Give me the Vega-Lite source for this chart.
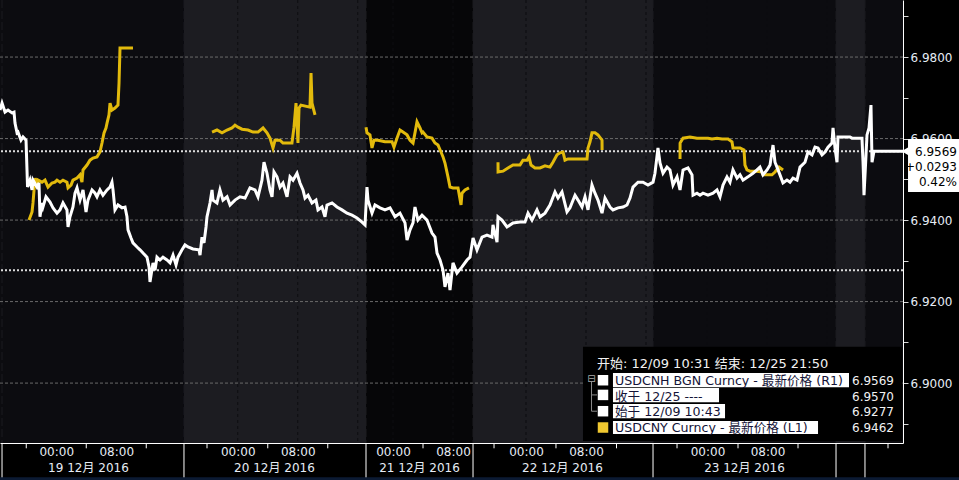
{
"$schema":"https://vega.github.io/schema/vega-lite/v6.json",
"width":903,"height":443,
"autosize":{"type":"none"},
"padding":{"left":0,"top":0,"right":56,"bottom":37},
"background":"#000000",
"config":{"view":{"stroke":null}},
"resolve":{"axis":{"x":"independent","y":"independent"}},
"data":{"values":[{}]},
"datasets":{
"bands":[{"t0":0,"t1":24.53,"shade":"dark"},{"t0":24.53,"t1":48.8,"shade":"light"},{"t0":48.8,"t1":63.07,"shade":"darker"},{"t0":63.07,"t1":87.07,"shade":"light"},{"t0":87.07,"t1":111.47,"shade":"dark"},{"t0":111.47,"t1":115.33,"shade":"light"},{"t0":115.33,"t1":120.4,"shade":"dark"}],
"vgrid":[{"t":7.5,"kind":"grid"},{"t":15.5,"kind":"grid"},{"t":23.5,"kind":"grid"},{"t":31.7,"kind":"grid"},{"t":39.7,"kind":"grid"},{"t":47.7,"kind":"grid"},{"t":52.4,"kind":"grid"},{"t":60.4,"kind":"grid"},{"t":70.13,"kind":"grid"},{"t":78.13,"kind":"grid"},{"t":86.13,"kind":"grid"},{"t":94.33,"kind":"grid"},{"t":102.33,"kind":"grid"},{"t":110.27,"kind":"grid"},{"t":0.27,"kind":"boundary"},{"t":24.53,"kind":"boundary"},{"t":48.8,"kind":"boundary"},{"t":63.07,"kind":"boundary"},{"t":87.07,"kind":"boundary"},{"t":111.47,"kind":"boundary"},{"t":115.33,"kind":"boundary"}],
"bounds":[{"t":0.27},{"t":24.53},{"t":48.8},{"t":63.07},{"t":87.07},{"t":111.47},{"t":115.33}],
"minor":[{"t":3.5},{"t":11.5},{"t":19.5},{"t":27.6},{"t":35.7},{"t":43.7},{"t":56.4},{"t":65.87},{"t":74.13},{"t":82.2},{"t":90.27},{"t":98.4},{"t":106.4},{"t":118.4}],
"hgrid":[{"v":6.90},{"v":6.92},{"v":6.94},{"v":6.96},{"v":6.98}],
"refs":[{"v":6.9569},{"v":6.9277}],
"cny":[
{"seg":1,"t":3.87,"v":6.9400},{"seg":1,"t":4.27,"v":6.9420},{"seg":1,"t":4.4,"v":6.9442},{"seg":1,"t":4.67,"v":6.9503},{"seg":1,"t":4.93,"v":6.9481},{"seg":1,"t":5.07,"v":6.9498},{"seg":1,"t":5.6,"v":6.9493},{"seg":1,"t":6,"v":6.9498},{"seg":1,"t":6.4,"v":6.9481},{"seg":1,"t":6.93,"v":6.9491},{"seg":1,"t":7.33,"v":6.9493},{"seg":1,"t":7.6,"v":6.9498},{"seg":1,"t":8,"v":6.9493},{"seg":1,"t":8.4,"v":6.9498},{"seg":1,"t":8.93,"v":6.9493},{"seg":1,"t":9.07,"v":6.9479},{"seg":1,"t":9.47,"v":6.9486},{"seg":1,"t":9.73,"v":6.9498},{"seg":1,"t":10.27,"v":6.9503},{"seg":1,"t":10.67,"v":6.9511},{"seg":1,"t":10.93,"v":6.9493},{"seg":1,"t":11.07,"v":6.9523},{"seg":1,"t":11.6,"v":6.9535},{"seg":1,"t":12,"v":6.9547},{"seg":1,"t":12.4,"v":6.9552},{"seg":1,"t":12.93,"v":6.9555},{"seg":1,"t":13.33,"v":6.9567},{"seg":1,"t":13.6,"v":6.9589},{"seg":1,"t":13.87,"v":6.9614},{"seg":1,"t":14.13,"v":6.9626},{"seg":1,"t":14.27,"v":6.9638},{"seg":1,"t":14.53,"v":6.9658},{"seg":1,"t":14.67,"v":6.9687},{"seg":1,"t":14.93,"v":6.9670},{"seg":1,"t":15.33,"v":6.9675},{"seg":1,"t":15.73,"v":6.9682},{"seg":1,"t":15.87,"v":6.9736},{"seg":1,"t":16,"v":6.9822},{"seg":1,"t":17.73,"v":6.9822},
{"seg":2,"t":28.27,"v":6.9616},{"seg":2,"t":28.93,"v":6.9621},{"seg":2,"t":29.6,"v":6.9614},{"seg":2,"t":30.27,"v":6.9621},{"seg":2,"t":30.93,"v":6.9626},{"seg":2,"t":31.33,"v":6.9633},{"seg":2,"t":31.73,"v":6.9628},{"seg":2,"t":32.27,"v":6.9623},{"seg":2,"t":33.07,"v":6.9621},{"seg":2,"t":33.73,"v":6.9616},{"seg":2,"t":34.4,"v":6.9616},{"seg":2,"t":35.07,"v":6.9626},{"seg":2,"t":35.6,"v":6.9614},{"seg":2,"t":36,"v":6.9601},{"seg":2,"t":36.4,"v":6.9577},{"seg":2,"t":36.67,"v":6.9596},{"seg":2,"t":37.33,"v":6.9596},{"seg":2,"t":37.73,"v":6.9589},{"seg":2,"t":38.93,"v":6.9589},{"seg":2,"t":39.2,"v":6.9628},{"seg":2,"t":39.47,"v":6.9687},{"seg":2,"t":39.73,"v":6.9589},{"seg":2,"t":39.87,"v":6.9675},{"seg":2,"t":40.13,"v":6.9682},{"seg":2,"t":41.33,"v":6.9677},{"seg":2,"t":41.47,"v":6.9761},{"seg":2,"t":41.6,"v":6.9687},{"seg":2,"t":42,"v":6.9658},
{"seg":3,"t":48.8,"v":6.9628},{"seg":3,"t":48.93,"v":6.9614},{"seg":3,"t":49.33,"v":6.9609},{"seg":3,"t":49.6,"v":6.9577},{"seg":3,"t":49.87,"v":6.9596},{"seg":3,"t":50.4,"v":6.9596},{"seg":3,"t":51.33,"v":6.9592},{"seg":3,"t":52.27,"v":6.9592},{"seg":3,"t":52.53,"v":6.9579},{"seg":3,"t":52.93,"v":6.9601},{"seg":3,"t":53.33,"v":6.9621},{"seg":3,"t":53.73,"v":6.9616},{"seg":3,"t":54.27,"v":6.9609},{"seg":3,"t":54.67,"v":6.9596},{"seg":3,"t":55.07,"v":6.9589},{"seg":3,"t":55.33,"v":6.9614},{"seg":3,"t":55.6,"v":6.9641},{"seg":3,"t":56,"v":6.9626},{"seg":3,"t":56.27,"v":6.9614},{"seg":3,"t":56.4,"v":6.9616},{"seg":3,"t":56.93,"v":6.9604},{"seg":3,"t":57.6,"v":6.9601},{"seg":3,"t":58,"v":6.9589},{"seg":3,"t":58.4,"v":6.9584},{"seg":3,"t":58.8,"v":6.9567},{"seg":3,"t":59.07,"v":6.9555},{"seg":3,"t":59.33,"v":6.9540},{"seg":3,"t":59.73,"v":6.9506},{"seg":3,"t":60,"v":6.9481},{"seg":3,"t":60.4,"v":6.9479},{"seg":3,"t":61.07,"v":6.9479},{"seg":3,"t":61.47,"v":6.9437},{"seg":3,"t":61.6,"v":6.9466},{"seg":3,"t":62,"v":6.9474},{"seg":3,"t":62.53,"v":6.9479},
{"seg":4,"t":66.4,"v":6.9542},{"seg":4,"t":66.41,"v":6.9518},{"seg":4,"t":67.07,"v":6.9520},{"seg":4,"t":67.73,"v":6.9528},{"seg":4,"t":68.4,"v":6.9535},{"seg":4,"t":69.33,"v":6.9535},{"seg":4,"t":69.73,"v":6.9547},{"seg":4,"t":70.27,"v":6.9547},{"seg":4,"t":70.53,"v":6.9555},{"seg":4,"t":70.8,"v":6.9535},{"seg":4,"t":71.33,"v":6.9528},{"seg":4,"t":72,"v":6.9528},{"seg":4,"t":72.67,"v":6.9533},{"seg":4,"t":73.33,"v":6.9530},{"seg":4,"t":73.73,"v":6.9542},{"seg":4,"t":74.27,"v":6.9560},{"seg":4,"t":74.67,"v":6.9565},{"seg":4,"t":75.07,"v":6.9567},{"seg":4,"t":75.33,"v":6.9547},{"seg":4,"t":75.73,"v":6.9550},{"seg":4,"t":78.27,"v":6.9550},{"seg":4,"t":78.4,"v":6.9577},{"seg":4,"t":78.67,"v":6.9592},{"seg":4,"t":78.93,"v":6.9614},{"seg":4,"t":79.33,"v":6.9614},{"seg":4,"t":79.73,"v":6.9609},{"seg":4,"t":80.27,"v":6.9596},{"seg":4,"t":80.28,"v":6.9572},
{"seg":5,"t":90.67,"v":6.9550},{"seg":5,"t":90.68,"v":6.9589},{"seg":5,"t":91.07,"v":6.9601},{"seg":5,"t":92,"v":6.9604},{"seg":5,"t":92.93,"v":6.9601},{"seg":5,"t":93.73,"v":6.9601},{"seg":5,"t":94.4,"v":6.9601},{"seg":5,"t":94.93,"v":6.9599},{"seg":5,"t":95.6,"v":6.9601},{"seg":5,"t":96.27,"v":6.9599},{"seg":5,"t":97.07,"v":6.9599},{"seg":5,"t":97.6,"v":6.9592},{"seg":5,"t":97.73,"v":6.9577},{"seg":5,"t":98.67,"v":6.9577},{"seg":5,"t":99.2,"v":6.9572},{"seg":5,"t":99.33,"v":6.9535},{"seg":5,"t":99.6,"v":6.9523},{"seg":5,"t":100,"v":6.9520},{"seg":5,"t":100.93,"v":6.9520},{"seg":5,"t":101.6,"v":6.9518},{"seg":5,"t":101.73,"v":6.9511},{"seg":5,"t":102.93,"v":6.9511},{"seg":5,"t":103.33,"v":6.9518},{"seg":5,"t":103.87,"v":6.9530},{"seg":5,"t":104.4,"v":6.9523}
],
"cnh":[
{"t":0,"v":6.9670},{"t":0.27,"v":6.9687},{"t":0.67,"v":6.9665},{"t":1.07,"v":6.9670},{"t":1.6,"v":6.9663},{"t":1.87,"v":6.9665},{"t":2,"v":6.9638},{"t":2.27,"v":6.9614},{"t":2.4,"v":6.9616},{"t":2.8,"v":6.9596},{"t":3.07,"v":6.9604},{"t":3.47,"v":6.9596},{"t":3.6,"v":6.9523},{"t":3.67,"v":6.9481},{"t":4,"v":6.9498},{"t":4.27,"v":6.9474},{"t":4.4,"v":6.9498},{"t":4.93,"v":6.9481},{"t":5.2,"v":6.9491},{"t":5.33,"v":6.9408},{"t":5.6,"v":6.9442},{"t":5.73,"v":6.9432},{"t":6.13,"v":6.9457},{"t":6.67,"v":6.9444},{"t":7.07,"v":6.9430},{"t":7.6,"v":6.9417},{"t":8,"v":6.9425},{"t":8.4,"v":6.9442},{"t":8.93,"v":6.9425},{"t":9.07,"v":6.9383},{"t":9.33,"v":6.9408},{"t":9.73,"v":6.9432},{"t":10,"v":6.9466},{"t":10.27,"v":6.9479},{"t":10.67,"v":6.9449},{"t":11.07,"v":6.9474},{"t":11.47,"v":6.9420},{"t":11.73,"v":6.9449},{"t":12.27,"v":6.9474},{"t":12.67,"v":6.9466},{"t":12.93,"v":6.9457},{"t":13.33,"v":6.9474},{"t":13.73,"v":6.9461},{"t":14.27,"v":6.9474},{"t":14.67,"v":6.9481},{"t":14.93,"v":6.9493},{"t":15.07,"v":6.9474},{"t":15.33,"v":6.9425},{"t":15.73,"v":6.9437},{"t":16.27,"v":6.9430},{"t":16.67,"v":6.9432},{"t":16.93,"v":6.9408},{"t":17.07,"v":6.9376},{"t":17.47,"v":6.9356},{"t":17.73,"v":6.9344},{"t":18.27,"v":6.9334},{"t":18.67,"v":6.9327},{"t":19.07,"v":6.9319},{"t":19.6,"v":6.9309},{"t":19.87,"v":6.9285},{"t":20,"v":6.9248},{"t":20.4,"v":6.9295},{"t":20.67,"v":6.9277},{"t":20.93,"v":6.9309},{"t":21.33,"v":6.9302},{"t":21.73,"v":6.9309},{"t":22.27,"v":6.9302},{"t":22.67,"v":6.9295},{"t":23.07,"v":6.9314},{"t":23.47,"v":6.9290},{"t":23.73,"v":6.9309},{"t":24.27,"v":6.9327},{"t":24.67,"v":6.9339},{"t":25.07,"v":6.9334},{"t":25.73,"v":6.9329},{"t":26.53,"v":6.9327},{"t":26.67,"v":6.9314},{"t":26.93,"v":6.9358},{"t":27.2,"v":6.9344},{"t":27.47,"v":6.9383},{"t":27.6,"v":6.9408},{"t":28,"v":6.9442},{"t":28.27,"v":6.9474},{"t":28.4,"v":6.9449},{"t":28.93,"v":6.9442},{"t":29.33,"v":6.9474},{"t":29.73,"v":6.9449},{"t":30.27,"v":6.9457},{"t":30.67,"v":6.9437},{"t":31.33,"v":6.9449},{"t":32,"v":6.9457},{"t":32.67,"v":6.9454},{"t":33.33,"v":6.9479},{"t":34,"v":6.9474},{"t":34.4,"v":6.9457},{"t":34.93,"v":6.9498},{"t":35.2,"v":6.9542},{"t":35.6,"v":6.9515},{"t":36,"v":6.9474},{"t":36.27,"v":6.9457},{"t":36.53,"v":6.9518},{"t":36.93,"v":6.9506},{"t":37.33,"v":6.9481},{"t":37.73,"v":6.9491},{"t":38.27,"v":6.9457},{"t":38.67,"v":6.9506},{"t":39.07,"v":6.9498},{"t":39.6,"v":6.9515},{"t":40,"v":6.9491},{"t":40.4,"v":6.9474},{"t":40.67,"v":6.9454},{"t":41.07,"v":6.9461},{"t":41.6,"v":6.9442},{"t":42.13,"v":6.9449},{"t":42.4,"v":6.9425},{"t":42.93,"v":6.9432},{"t":43.33,"v":6.9408},{"t":43.6,"v":6.9437},{"t":44.27,"v":6.9442},{"t":44.93,"v":6.9432},{"t":45.6,"v":6.9425},{"t":46.27,"v":6.9417},{"t":46.93,"v":6.9412},{"t":47.6,"v":6.9405},{"t":48.27,"v":6.9395},{"t":48.67,"v":6.9388},{"t":48.93,"v":6.9481},{"t":49.07,"v":6.9449},{"t":49.6,"v":6.9417},{"t":50,"v":6.9437},{"t":50.67,"v":6.9430},{"t":51.33,"v":6.9425},{"t":52,"v":6.9430},{"t":52.67,"v":6.9408},{"t":53.33,"v":6.9417},{"t":54,"v":6.9393},{"t":54.27,"v":6.9351},{"t":54.67,"v":6.9376},{"t":55.07,"v":6.9393},{"t":55.33,"v":6.9432},{"t":55.73,"v":6.9400},{"t":56.27,"v":6.9412},{"t":56.93,"v":6.9400},{"t":57.6,"v":6.9368},{"t":58,"v":6.9358},{"t":58.27,"v":6.9319},{"t":58.67,"v":6.9302},{"t":59.07,"v":6.9277},{"t":59.33,"v":6.9236},{"t":59.73,"v":6.9270},{"t":60,"v":6.9228},{"t":60.4,"v":6.9295},{"t":60.93,"v":6.9270},{"t":61.6,"v":6.9285},{"t":62.27,"v":6.9302},{"t":62.67,"v":6.9309},{"t":63.07,"v":6.9356},{"t":63.6,"v":6.9327},{"t":64.27,"v":6.9358},{"t":64.93,"v":6.9363},{"t":65.6,"v":6.9358},{"t":65.73,"v":6.9388},{"t":66.27,"v":6.9346},{"t":66.4,"v":6.9408},{"t":66.93,"v":6.9400},{"t":67.6,"v":6.9383},{"t":68.4,"v":6.9393},{"t":69.33,"v":6.9395},{"t":70,"v":6.9395},{"t":70.4,"v":6.9417},{"t":70.93,"v":6.9400},{"t":71.6,"v":6.9425},{"t":72,"v":6.9408},{"t":72.67,"v":6.9417},{"t":73.33,"v":6.9437},{"t":74,"v":6.9469},{"t":74.4,"v":6.9454},{"t":74.93,"v":6.9469},{"t":75.6,"v":6.9420},{"t":76,"v":6.9430},{"t":76.67,"v":6.9461},{"t":77.07,"v":6.9449},{"t":77.6,"v":6.9432},{"t":78,"v":6.9457},{"t":78.4,"v":6.9425},{"t":78.93,"v":6.9486},{"t":79.33,"v":6.9466},{"t":79.73,"v":6.9449},{"t":80.27,"v":6.9417},{"t":80.67,"v":6.9454},{"t":81.33,"v":6.9432},{"t":81.73,"v":6.9425},{"t":82.4,"v":6.9430},{"t":83.07,"v":6.9432},{"t":83.6,"v":6.9437},{"t":84,"v":6.9454},{"t":84.4,"v":6.9481},{"t":85.07,"v":6.9493},{"t":85.73,"v":6.9493},{"t":86.4,"v":6.9486},{"t":87.07,"v":6.9493},{"t":87.33,"v":6.9515},{"t":87.73,"v":6.9577},{"t":88,"v":6.9540},{"t":88.4,"v":6.9515},{"t":88.93,"v":6.9530},{"t":89.33,"v":6.9523},{"t":89.73,"v":6.9486},{"t":90.27,"v":6.9506},{"t":90.67,"v":6.9474},{"t":91.07,"v":6.9523},{"t":91.73,"v":6.9528},{"t":92.27,"v":6.9511},{"t":92.4,"v":6.9461},{"t":92.93,"v":6.9466},{"t":93.33,"v":6.9461},{"t":93.73,"v":6.9466},{"t":94.4,"v":6.9461},{"t":95.07,"v":6.9466},{"t":95.6,"v":6.9474},{"t":96,"v":6.9457},{"t":96.4,"v":6.9486},{"t":96.93,"v":6.9506},{"t":97.33,"v":6.9493},{"t":97.73,"v":6.9523},{"t":98.27,"v":6.9503},{"t":98.67,"v":6.9511},{"t":99.07,"v":6.9498},{"t":99.73,"v":6.9506},{"t":100.4,"v":6.9515},{"t":100.93,"v":6.9523},{"t":101.33,"v":6.9530},{"t":101.73,"v":6.9511},{"t":102.27,"v":6.9523},{"t":102.67,"v":6.9535},{"t":103.07,"v":6.9584},{"t":103.33,"v":6.9542},{"t":103.6,"v":6.9530},{"t":104,"v":6.9511},{"t":104.4,"v":6.9491},{"t":104.93,"v":6.9498},{"t":105.33,"v":6.9493},{"t":105.73,"v":6.9503},{"t":106.27,"v":6.9498},{"t":106.67,"v":6.9530},{"t":107.33,"v":6.9542},{"t":107.73,"v":6.9567},{"t":108.27,"v":6.9560},{"t":108.67,"v":6.9579},{"t":109.07,"v":6.9577},{"t":109.6,"v":6.9560},{"t":110,"v":6.9567},{"t":110.4,"v":6.9579},{"t":110.93,"v":6.9589},{"t":111.07,"v":6.9626},{"t":111.33,"v":6.9577},{"t":111.6,"v":6.9542},{"t":111.73,"v":6.9604},{"t":113.33,"v":6.9604},{"t":113.6,"v":6.9601},{"t":114.93,"v":6.9601},{"t":115.07,"v":6.9542},{"t":115.13,"v":6.9511},{"t":115.2,"v":6.9461},{"t":115.47,"v":6.9560},{"t":115.6,"v":6.9609},{"t":115.87,"v":6.9626},{"t":116.13,"v":6.9682},{"t":116.27,"v":6.9542},{"t":116.53,"v":6.9569},{"t":120.4,"v":6.9569}
]
},
"layer":[
{"data":{"name":"bands"},"mark":{"type":"rect"},
 "encoding":{"x":{"field":"t0","type":"quantitative","scale":{"domain":[0,120.4],"nice":false,"zero":false},"axis":null},"x2":{"field":"t1"},
 "y":{"datum":6.994,"type":"quantitative","scale":{"domain":[6.8853,6.994],"nice":false,"zero":false},"axis":null},"y2":{"datum":6.8853},
 "color":{"field":"shade","type":"nominal","scale":{"domain":["dark","light","darker"],"range":["#0c0c10","#1c1c21","#060608"]},"legend":null}}},
{"data":{"name":"vgrid"},"mark":{"type":"rule","strokeWidth":1},
 "encoding":{"x":{"field":"t","type":"quantitative","scale":{"domain":[0,120.4],"nice":false,"zero":false},"axis":null},
 "strokeDash":{"field":"kind","type":"nominal","scale":{"domain":["grid","boundary"],"range":[[3,3],[8,3]]},"legend":null},
 "color":{"field":"kind","type":"nominal","scale":{"domain":["grid","boundary"],"range":["#6a6a6a","#8c8c8c"]},"legend":null}}},
{"data":{"name":"hgrid"},"mark":{"type":"rule","strokeWidth":1,"strokeDash":[3,2],"color":"#6a6a6a"},
 "encoding":{"y":{"field":"v","type":"quantitative","scale":{"domain":[6.8853,6.994],"nice":false,"zero":false},"axis":null}}},
{"data":{"name":"refs"},"mark":{"type":"rule","strokeWidth":2,"strokeDash":[2,2],"color":"#dcdcdc"},
 "encoding":{"y":{"field":"v","type":"quantitative","scale":{"domain":[6.8853,6.994],"nice":false,"zero":false},"axis":null}}},
{"data":{"name":"cny"},"mark":{"type":"line","color":"#e2ba0c","strokeWidth":3},
 "encoding":{"x":{"field":"t","type":"quantitative","scale":{"domain":[0,120.4],"nice":false,"zero":false},"axis":null},
 "y":{"field":"v","type":"quantitative","scale":{"domain":[6.8853,6.994],"nice":false,"zero":false},"axis":null},
 "detail":{"field":"seg","type":"nominal"}}},
{"data":{"name":"cnh"},"mark":{"type":"line","color":"#ffffff","strokeWidth":3},
 "encoding":{"x":{"field":"t","type":"quantitative","scale":{"domain":[0,120.4],"nice":false,"zero":false},
   "axis":{"orient":"bottom","values":[7.5,15.5,31.7,39.7,52.4,60.4,70.13,78.13,94.33,102.33,11.73,36.53,55.87,74.93,99.2],
   "labelExpr":"indexof([7.5,31.7,52.4,70.13,94.33], datum.value) >= 0 ? '00:00' : indexof([15.5,39.7,60.4,78.13,102.33], datum.value) >= 0 ? '08:00' : datum.value == 11.73 ? ['', '19 12月 2016'] : datum.value == 36.53 ? ['', '20 12月 2016'] : datum.value == 55.87 ? ['', '21 12月 2016'] : datum.value == 74.93 ? ['', '22 12月 2016'] : datum.value == 99.2 ? ['', '23 12月 2016'] : ''",
   "ticks":false,"grid":false,"domain":true,"domainColor":"#ffffff","domainWidth":1,"labelColor":"#e6ecf5","labelFont":"DejaVu Sans, Noto Sans CJK SC","labelFontSize":12,"labelPadding":3,"labelBaseline":"top","labelLineHeight":16,"labelOverlap":false,"labelFlush":false,"title":null,"zindex":1}},
 "y":{"field":"v","type":"quantitative","scale":{"domain":[6.8853,6.994],"nice":false,"zero":false},
   "axis":{"orient":"right","values":[6.89,6.9,6.91,6.92,6.93,6.94,6.95,6.96,6.97,6.98,6.99],"labelExpr":"round(datum.value*100) % 2 == 0 ? format(datum.value, '.4f') : ''","grid":false,"ticks":true,"tickSize":5,"tickColor":"#d8d8d8","domain":true,"domainColor":"#ffffff","labelColor":"#e6ecf5","labelFont":"DejaVu Sans","labelFontSize":12,"labelPadding":2,"labelOverlap":false,"labelFlush":false,"title":null,"zindex":0}}}},
{"data":{"name":"bounds"},"mark":{"type":"rule","color":"#ffffff","strokeWidth":1},
 "encoding":{"x":{"field":"t","type":"quantitative","scale":{"domain":[0,120.4],"nice":false,"zero":false},"axis":null},
 "y":{"datum":6.8853,"type":"quantitative","scale":{"domain":[6.8853,6.994],"nice":false,"zero":false},"axis":null},"y2":{"datum":6.8762}}},
{"data":{"name":"minor"},"mark":{"type":"rule","color":"#ffffff","strokeWidth":1},
 "encoding":{"x":{"field":"t","type":"quantitative","scale":{"domain":[0,120.4],"nice":false,"zero":false},"axis":null},
 "y":{"datum":6.8853,"type":"quantitative","scale":{"domain":[6.8853,6.994],"nice":false,"zero":false},"axis":null},"y2":{"datum":6.8840}}},
{"mark":{"type":"rect","color":"#0b1a33"},
 "encoding":{"x":{"datum":0,"type":"quantitative","scale":{"domain":[0,120.4],"nice":false,"zero":false},"axis":null},"x2":{"datum":127.9},
 "y":{"datum":6.8769,"type":"quantitative","scale":{"domain":[6.8853,6.994],"nice":false,"zero":false},"axis":null},"y2":{"datum":6.8760}}},
{"mark":{"type":"rect","color":"#000000"},
 "encoding":{"x":{"datum":77.73,"type":"quantitative","scale":{"domain":[0,120.4],"nice":false,"zero":false},"axis":null},"x2":{"datum":120.3},
 "y":{"datum":6.9089,"type":"quantitative","scale":{"domain":[6.8853,6.994],"nice":false,"zero":false},"axis":null},"y2":{"datum":6.8858}}},
{"mark":{"type":"rect","color":"#ffffff"},
 "encoding":{"x":{"datum":81.73,"type":"quantitative","scale":{"domain":[0,120.4],"nice":false,"zero":false},"axis":null},"x2":{"datum":113.2},
 "y":{"datum":6.9025,"type":"quantitative","scale":{"domain":[6.8853,6.994],"nice":false,"zero":false},"axis":null},"y2":{"datum":6.8990}}},
{"mark":{"type":"rect","color":"#ffffff"},
 "encoding":{"x":{"datum":81.73,"type":"quantitative","scale":{"domain":[0,120.4],"nice":false,"zero":false},"axis":null},"x2":{"datum":95.87},
 "y":{"datum":6.8988,"type":"quantitative","scale":{"domain":[6.8853,6.994],"nice":false,"zero":false},"axis":null},"y2":{"datum":6.8953}}},
{"mark":{"type":"rect","color":"#ffffff"},
 "encoding":{"x":{"datum":81.73,"type":"quantitative","scale":{"domain":[0,120.4],"nice":false,"zero":false},"axis":null},"x2":{"datum":96.67},
 "y":{"datum":6.8949,"type":"quantitative","scale":{"domain":[6.8853,6.994],"nice":false,"zero":false},"axis":null},"y2":{"datum":6.8914}}},
{"mark":{"type":"rect","color":"#ffffff"},
 "encoding":{"x":{"datum":81.73,"type":"quantitative","scale":{"domain":[0,120.4],"nice":false,"zero":false},"axis":null},"x2":{"datum":109.07},
 "y":{"datum":6.8907,"type":"quantitative","scale":{"domain":[6.8853,6.994],"nice":false,"zero":false},"axis":null},"y2":{"datum":6.8875}}},
{"mark":{"type":"point","shape":"square","filled":true,"size":110,"color":"#ffffff","opacity":1},
 "encoding":{"x":{"datum":80.4,"type":"quantitative","scale":{"domain":[0,120.4],"nice":false,"zero":false},"axis":null},
 "y":{"datum":6.9007,"type":"quantitative","scale":{"domain":[6.8853,6.994],"nice":false,"zero":false},"axis":null}}},
{"mark":{"type":"point","shape":"square","filled":true,"size":110,"color":"#ffffff","opacity":1},
 "encoding":{"x":{"datum":80.4,"type":"quantitative","scale":{"domain":[0,120.4],"nice":false,"zero":false},"axis":null},
 "y":{"datum":6.8971,"type":"quantitative","scale":{"domain":[6.8853,6.994],"nice":false,"zero":false},"axis":null}}},
{"mark":{"type":"point","shape":"square","filled":true,"size":110,"color":"#ffffff","opacity":1},
 "encoding":{"x":{"datum":80.4,"type":"quantitative","scale":{"domain":[0,120.4],"nice":false,"zero":false},"axis":null},
 "y":{"datum":6.8931,"type":"quantitative","scale":{"domain":[6.8853,6.994],"nice":false,"zero":false},"axis":null}}},
{"mark":{"type":"point","shape":"square","filled":true,"size":110,"color":"#f0c830","opacity":1},
 "encoding":{"x":{"datum":80.4,"type":"quantitative","scale":{"domain":[0,120.4],"nice":false,"zero":false},"axis":null},
 "y":{"datum":6.8891,"type":"quantitative","scale":{"domain":[6.8853,6.994],"nice":false,"zero":false},"axis":null}}},
{"mark":{"type":"rule","color":"#8a8a8a","strokeWidth":1},
 "encoding":{"x":{"datum":78.87,"type":"quantitative","scale":{"domain":[0,120.4],"nice":false,"zero":false},"axis":null},
 "y":{"datum":6.9003,"type":"quantitative","scale":{"domain":[6.8853,6.994],"nice":false,"zero":false},"axis":null},"y2":{"datum":6.8931}}},
{"mark":{"type":"rule","color":"#8a8a8a","strokeWidth":1},
 "encoding":{"x":{"datum":78.87,"type":"quantitative","scale":{"domain":[0,120.4],"nice":false,"zero":false},"axis":null},"x2":{"datum":79.6},
 "y":{"datum":6.8971,"type":"quantitative","scale":{"domain":[6.8853,6.994],"nice":false,"zero":false},"axis":null}}},
{"mark":{"type":"rule","color":"#8a8a8a","strokeWidth":1},
 "encoding":{"x":{"datum":78.87,"type":"quantitative","scale":{"domain":[0,120.4],"nice":false,"zero":false},"axis":null},"x2":{"datum":79.6},
 "y":{"datum":6.8931,"type":"quantitative","scale":{"domain":[6.8853,6.994],"nice":false,"zero":false},"axis":null}}},
{"mark":{"type":"text","text":"⊟","font":"DejaVu Sans","fontSize":10,"color":"#aaaaaa","align":"center","baseline":"middle"},
 "encoding":{"x":{"datum":78.87,"type":"quantitative","scale":{"domain":[0,120.4],"nice":false,"zero":false},"axis":null},
 "y":{"datum":6.9010,"type":"quantitative","scale":{"domain":[6.8853,6.994],"nice":false,"zero":false},"axis":null}}},
{"mark":{"type":"text","text":"开始: 12/09 10:31 结束: 12/25 21:50","font":"DejaVu Sans, Noto Sans CJK SC","fontSize":13,"color":"#f2f2f2","align":"left","baseline":"alphabetic"},
 "encoding":{"x":{"datum":79.6,"type":"quantitative","scale":{"domain":[0,120.4],"nice":false,"zero":false},"axis":null},
 "y":{"datum":6.9037,"type":"quantitative","scale":{"domain":[6.8853,6.994],"nice":false,"zero":false},"axis":null}}},
{"mark":{"type":"text","text":["USDCNH BGN Curncy - 最新价格 (R1)","收于 12/25 ----","始于 12/09 10:43","USDCNY Curncy - 最新价格 (L1)"],"lineHeight":15.8,"font":"DejaVu Sans, Noto Sans CJK SC","fontSize":12.6,"color":"#141438","align":"left","baseline":"alphabetic"},
 "encoding":{"x":{"datum":82.0,"type":"quantitative","scale":{"domain":[0,120.4],"nice":false,"zero":false},"axis":null},
 "y":{"datum":6.8996,"type":"quantitative","scale":{"domain":[6.8853,6.994],"nice":false,"zero":false},"axis":null}}},
{"mark":{"type":"text","text":["6.9569","6.9570","6.9277","6.9462"],"lineHeight":15.8,"font":"DejaVu Sans","fontSize":12,"color":"#f2f2f2","align":"right","baseline":"alphabetic"},
 "encoding":{"x":{"datum":119.2,"type":"quantitative","scale":{"domain":[0,120.4],"nice":false,"zero":false},"axis":null},
 "y":{"datum":6.8996,"type":"quantitative","scale":{"domain":[6.8853,6.994],"nice":false,"zero":false},"axis":null}}},
{"mark":{"type":"rect","color":"#ffffff"},
 "encoding":{"x":{"datum":121.07,"type":"quantitative","scale":{"domain":[0,120.4],"nice":false,"zero":false},"axis":null},"x2":{"datum":127.9},
 "y":{"datum":6.9599,"type":"quantitative","scale":{"domain":[6.8853,6.994],"nice":false,"zero":false},"axis":null},"y2":{"datum":6.9469}}},
{"mark":{"type":"point","shape":"triangle-left","filled":true,"size":90,"color":"#ffffff","opacity":1},
 "encoding":{"x":{"datum":120.75,"type":"quantitative","scale":{"domain":[0,120.4],"nice":false,"zero":false},"axis":null},
 "y":{"datum":6.9569,"type":"quantitative","scale":{"domain":[6.8853,6.994],"nice":false,"zero":false},"axis":null}}},
{"mark":{"type":"text","text":["6.9569","+0.0293","0.42%"],"lineHeight":15,"font":"DejaVu Sans","fontSize":12,"color":"#000000","align":"right","baseline":"alphabetic"},
 "encoding":{"x":{"datum":127.6,"type":"quantitative","scale":{"domain":[0,120.4],"nice":false,"zero":false},"axis":null},
 "y":{"datum":6.9557,"type":"quantitative","scale":{"domain":[6.8853,6.994],"nice":false,"zero":false},"axis":null}}}
]
}
